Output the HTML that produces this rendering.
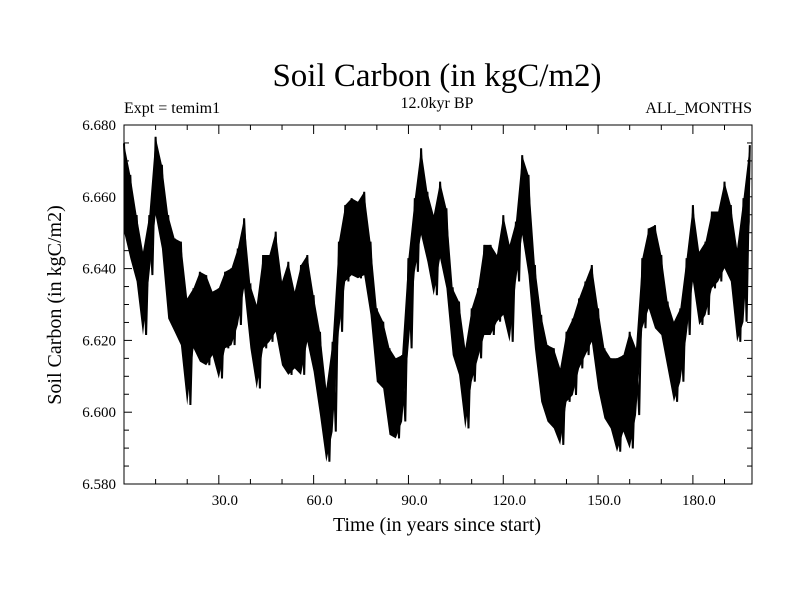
<!DOCTYPE html>
<html><head><meta charset="utf-8"><style>
body{margin:0;background:#fff}
svg{display:block;font-family:"Liberation Serif",serif}
</style></head><body>
<svg id="chart" width="800" height="600" viewBox="0 0 800 600">
<rect x="0" y="0" width="800" height="600" fill="#fff"/>
<text x="437" y="86" font-size="33" text-anchor="middle">Soil Carbon (in kgC/m2)</text>
<text x="124" y="113" font-size="16">Expt = temim1</text>
<text x="437" y="108" font-size="16" text-anchor="middle">12.0kyr BP</text>
<text x="752" y="113" font-size="16" text-anchor="end">ALL_MONTHS</text>
<text x="437" y="531" font-size="20" text-anchor="middle">Time (in years since start)</text>
<text x="0" y="0" font-size="20" text-anchor="middle" transform="translate(61,305) rotate(-90)">Soil Carbon (in kgC/m2)</text>
<g id="marks"></g>
<g id="axes"></g>
</svg>
<script>
const years=[0,2,4,6,8,10,12,14,16,18,20,22,24,26,28,30,32,34,36,38,40,42,44,46,48,50,52,54,56,58,60,62,64,66,68,70,72,74,76,78,80,82,84,86,88,90,92,94,96,98,100,102,104,106,108,110,112,114,116,118,120,122,124,126,128,130,132,134,136,138,140,142,144,146,148,150,152,154,156,158,160,162,164,166,168,170,172,174,176,178,180,182,184,186,188,190,192,194,196,198];
const highs=[6.6749,6.6661,6.6549,6.6447,6.6549,6.6767,6.6689,6.6549,6.6484,6.6475,6.6317,6.6345,6.6391,6.6382,6.6336,6.6345,6.6391,6.6401,6.6456,6.6540,6.6354,6.6299,6.6438,6.6438,6.6503,6.6364,6.6419,6.6336,6.6410,6.6438,6.6326,6.6224,6.6066,6.6196,6.6475,6.6577,6.6596,6.6586,6.6614,6.6475,6.6289,6.6252,6.6178,6.6150,6.6159,6.6429,6.6596,6.6735,6.6614,6.6549,6.6642,6.6568,6.6345,6.6308,6.6178,6.6289,6.6345,6.6466,6.6466,6.6438,6.6549,6.6466,6.6531,6.6716,6.6661,6.6410,6.6271,6.6187,6.6178,6.6122,6.6224,6.6261,6.6317,6.6364,6.6410,6.6289,6.6178,6.6150,6.6150,6.6159,6.6224,6.6178,6.6429,6.6512,6.6521,6.6438,6.6308,6.6252,6.6289,6.6429,6.6577,6.6447,6.6475,6.6559,6.6559,6.6642,6.6577,6.6456,6.6596,6.6744];
const lows=[6.6503,6.6429,6.6364,6.6215,6.6382,6.6549,6.6456,6.6261,6.6224,6.6187,6.6020,6.6178,6.6141,6.6131,6.6159,6.6094,6.6178,6.6187,6.6243,6.6345,6.6178,6.6066,6.6178,6.6196,6.6224,6.6131,6.6104,6.6122,6.6104,6.6196,6.6113,6.5992,6.5862,6.5946,6.6224,6.6364,6.6382,6.6373,6.6382,6.6271,6.6085,6.6066,6.5937,6.5927,6.5974,6.6178,6.6391,6.6494,6.6419,6.6326,6.6429,6.6345,6.6159,6.6104,6.5955,6.6085,6.6150,6.6215,6.6215,6.6252,6.6271,6.6196,6.6364,6.6494,6.6382,6.6178,6.6029,6.5974,6.5955,6.5909,6.6029,6.6048,6.6122,6.6159,6.6196,6.6066,6.5983,6.5955,6.5890,6.5946,6.5899,6.5992,6.6234,6.6289,6.6234,6.6215,6.6122,6.6029,6.6085,6.6215,6.6364,6.6243,6.6271,6.6345,6.6364,6.6401,6.6364,6.6196,6.6252,6.6531];
const yTickLabels=["6.580","6.600","6.620","6.640","6.660","6.680"];
const xTickLabels=["30.0","60.0","90.0","120.0","150.0","180.0"];
const yTickValues=[6.58,6.60,6.62,6.64,6.66,6.68];
const xTickValues=[30,60,90,120,150,180];

const L=124,R=752,T=125,B=484,X0=0,X1=198.7,Y0=6.58,Y1=6.68;
function xs(v){return L+(v-X0)/(X1-X0)*(R-L);}
function ys(v){return B-(v-Y0)/(Y1-Y0)*(B-T);}
const NS='http://www.w3.org/2000/svg';
const marks=document.getElementById('marks'),axes=document.getElementById('axes');
function mk(tag,attrs,parent){const e=document.createElementNS(NS,tag);for(const k in attrs)e.setAttribute(k,attrs[k]);parent.appendChild(e);return e;}

let pts=[];
for(let i=0;i<years.length;i++)pts.push(xs(years[i]).toFixed(1)+','+ys(highs[i]).toFixed(1));
for(let i=years.length-1;i>=0;i--)pts.push(xs(years[i]).toFixed(1)+','+ys(lows[i]).toFixed(1));
const band=mk('polygon',{points:pts.join(' '),fill:'#000'},marks);


let z=[];
for(let i=0;i<years.length;i++){
  z.push(xs(years[i]).toFixed(1)+','+ys(highs[i]).toFixed(1));
  if(i<years.length-1)z.push(xs(years[i]+1).toFixed(1)+','+ys(lows[i]).toFixed(1));
}
const line=mk('polyline',{points:z.join(' '),fill:'none',stroke:'#000','stroke-width':2},marks);



const frame=mk('rect',{x:L,y:T,width:R-L,height:B-T,fill:'none',stroke:'#000','stroke-width':1},axes);


for(let v=0;v<=20;v++){
  const val=Y0+v*0.005,y=ys(val),len=(v%4===0)?8:5;
  const t1=mk('line',{x1:L,x2:L+len,y1:y,y2:y,stroke:'#000'},axes);
  
  
  const t2=mk('line',{x1:R,x2:R-len,y1:y,y2:y,stroke:'#000'},axes);
  
  
}
yTickValues.forEach((v,i)=>{
  const t=mk('text',{x:116,y:ys(v)+5,'font-size':15,'text-anchor':'end'},axes);
  t.textContent=yTickLabels[i];
  
  
});
for(let v=10;v<X1;v+=10){
  const x=xs(v),len=(v%30===0)?9:5;
  const t1=mk('line',{x1:x,x2:x,y1:B,y2:B-len,stroke:'#000'},axes);
  
  
  const t2=mk('line',{x1:x,x2:x,y1:T,y2:T+len,stroke:'#000'},axes);
  
  
}
xTickValues.forEach((v,i)=>{
  const t=mk('text',{x:xs(v)+6,y:505,'font-size':15,'text-anchor':'middle'},axes);
  t.textContent=xTickLabels[i];
  
  
});
</script>
</body></html>
